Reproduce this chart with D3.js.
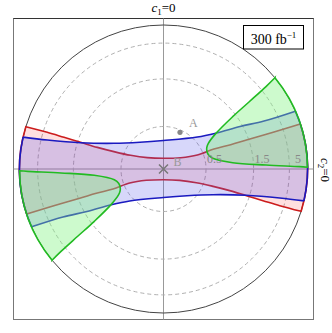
<!DOCTYPE html>
<html>
<head>
<meta charset="utf-8">
<script src="https://cdn.jsdelivr.net/npm/d3@7"></script>
<style>
  body { margin: 0; background: #fff; }
  svg text { font-family: "Liberation Serif", "DejaVu Serif", serif; }
</style>
</head>
<body>
<svg id="myGraph" width="332" height="333"></svg>
<script>
// data: [angle in degrees, rho]  (rho = Infinity lies on the outer circle)
var rhoTicks = [0.5, 1.5, 5];
var rhoLabels = ["0.5", "1.5", "5"];
var redUpper = [[162.9, Infinity], [162.5, 4.07], [162.35, 2.17], [162.15, 1.40], [161.9, 0.949],
  [160.7, 0.645], [157.4, 0.409], [145.0, 0.219], [90, 0.117], [33.4, 0.228], [22.5, 0.422],
  [21.6, 0.672], [19.9, 0.988], [19.3, 1.454], [18.5, 3.24], [18.2, Infinity]];
var blueUpper = [[167.2, Infinity], [166.0, 3.70], [162.4, 1.39], [152.6, 0.697], [131.4, 0.409],
  [90, 0.321], [43.4, 0.556], [34.2, 0.841], [29.05, 1.413], [25.5, 2.69], [23.66, Infinity]];
var greenRight = [[39.3, Infinity], [38.8, 7.29], [38.1, 2.49], [37.1, 1.386], [34.2, 0.828],
  [29.8, 0.632], [26.8, 0.586], [23.7, 0.566], [18.0, 0.563], [12.3, 0.612], [5.2, 0.947],
  [2.2, 2.06], [1.0, 11.1], [0.7, Infinity]];
var pointA = [65.8, 0.469];
var pointB = [0, 0];
var legendText = "300 fb";

// layout
var svg = d3.select("#myGraph");
const CX = 163.5;
const CY = 169;
const R = 144;
const FRAME = {x: 13.5, y: 18.5, w: 300, h: 301};

// radius: 2/pi * atan(rho) mapped onto [0, R]
var rScale = d3.scaleLinear().domain([0, Math.PI / 2]).range([0, R]);

function toXY(d){
  var r = rScale(Math.atan(d[1]));
  var a = d[0] * Math.PI / 180;
  return [CX + r * Math.cos(a), CY - r * Math.sin(a)];
}
function flip(pts){
  return pts.map(function(d){ return [d[0] + 180, d[1]]; });
}
var lineGen = d3.line().curve(d3.curveCatmullRom.alpha(0.5));
function seg(pts, first){
  var s = lineGen(pts.map(toXY));
  return first ? s : s.replace(/^M/, "L");
}
function arcTo(theta, sweep){
  var p = toXY([theta, Infinity]);
  return "A" + R + "," + R + " 0 0," + sweep + " " + p[0] + "," + p[1];
}
// band: upper curve, arc (clockwise), mirrored curve, arc back
function bandPath(up){
  var low = flip(up);
  return seg(up, true) + arcTo(low[0][0], 1) + seg(low, false) + arcTo(up[0][0], 1) + "Z";
}
function wedgePath(c){
  return seg(c, true) + arcTo(c[0][0], 0) + "Z";
}

// frame
svg.append("rect")
  .attr("x", FRAME.x).attr("y", FRAME.y)
  .attr("width", FRAME.w).attr("height", FRAME.h)
  .attr("fill", "none").attr("stroke", "#777").attr("stroke-width", 1);
svg.append("line")
  .attr("x1", FRAME.x).attr("x2", FRAME.x + FRAME.w).attr("y1", FRAME.y).attr("y2", FRAME.y)
  .attr("stroke", "#333").attr("stroke-width", 1);

// axes lines
svg.append("line")
  .attr("x1", CX).attr("x2", CX).attr("y1", FRAME.y).attr("y2", FRAME.y + FRAME.h)
  .attr("stroke", "#999").attr("stroke-width", 1);
svg.append("line")
  .attr("x1", FRAME.x).attr("x2", FRAME.x + FRAME.w).attr("y1", CY).attr("y2", CY)
  .attr("stroke", "#999").attr("stroke-width", 1);

// grid circles
svg.selectAll(".grid")
  .data(rhoTicks)
  .enter()
  .append("circle")
  .attr("class", "grid")
  .attr("cx", CX).attr("cy", CY)
  .attr("r", function(d){ return rScale(Math.atan(d)); })
  .attr("fill", "none").attr("stroke", "#b0b0b0")
  .attr("stroke-dasharray", "4,3").attr("stroke-width", 1);

svg.append("circle")
  .attr("cx", CX).attr("cy", CY).attr("r", R)
  .attr("fill", "none").attr("stroke", "#444").attr("stroke-width", 1);

// regions
svg.append("path").attr("d", bandPath(redUpper))
  .attr("fill", "#ff0000").attr("fill-opacity", 0.12)
  .attr("stroke", "#cc1c1c").attr("stroke-width", 1.6);
svg.append("path").attr("d", bandPath(blueUpper))
  .attr("fill", "rgb(95,95,235)").attr("fill-opacity", 0.25)
  .attr("stroke", "#1a1ac0").attr("stroke-width", 1.6);
[greenRight, flip(greenRight)].forEach(function(c){
  svg.append("path").attr("d", wedgePath(c))
    .attr("fill", "rgb(130,242,130)").attr("fill-opacity", 0.4)
    .attr("stroke", "#22bb22").attr("stroke-width", 1.6);
});

// radial tick labels
svg.selectAll(".rlab")
  .data(rhoTicks)
  .enter()
  .append("text")
  .attr("class", "rlab")
  .attr("x", function(d){ return CX + rScale(Math.atan(d)) + 8.5; })
  .attr("y", CY - 6)
  .attr("text-anchor", "middle")
  .attr("font-size", 12)
  .attr("fill", "#888")
  .text(function(d, i){ return rhoLabels[i]; });

// points A and B
var pa = toXY(pointA);
svg.append("circle").attr("cx", pa[0]).attr("cy", pa[1]).attr("r", 2.6).attr("fill", "#888");
svg.append("text").attr("x", pa[0] + 9).attr("y", pa[1] - 5)
  .attr("font-size", 12).attr("fill", "#999").text("A");
var pb = toXY(pointB);
svg.append("path")
  .attr("d", "M" + (pb[0] - 4.5) + "," + (pb[1] - 4.5) + "L" + (pb[0] + 4.5) + "," + (pb[1] + 4.5) +
    "M" + (pb[0] - 4.5) + "," + (pb[1] + 4.5) + "L" + (pb[0] + 4.5) + "," + (pb[1] - 4.5))
  .attr("stroke", "#777").attr("stroke-width", 1.5);
svg.append("text").attr("x", pb[0] + 10).attr("y", pb[1] - 3.5)
  .attr("font-size", 12).attr("fill", "#999").text("B");

// title and side label
var t = svg.append("text").attr("x", CX).attr("y", 11.5)
  .attr("text-anchor", "middle").attr("font-size", 13).attr("fill", "#000");
t.append("tspan").attr("font-style", "italic").text("c");
t.append("tspan").attr("font-size", 9).attr("dy", 3).text("1");
t.append("tspan").attr("dy", -3).text("=0");

var s = svg.append("text").attr("transform", "translate(320.5,170) rotate(90)")
  .attr("text-anchor", "middle").attr("font-size", 13).attr("fill", "#000");
s.append("tspan").attr("font-style", "italic").text("c");
s.append("tspan").attr("font-size", 9).attr("dy", 3).text("2");
s.append("tspan").attr("dy", -3).text("=0");

// legend box
svg.append("rect").attr("x", 243.5).attr("y", 25.5).attr("width", 60).attr("height", 23.5)
  .attr("fill", "#fff").attr("stroke", "#000").attr("stroke-width", 1);
var lg = svg.append("text").attr("x", 273.5).attr("y", 43.5)
  .attr("text-anchor", "middle").attr("font-size", 14).attr("fill", "#000");
lg.append("tspan").text(legendText);
lg.append("tspan").attr("font-size", 9).attr("dy", -6).text("\u22121");
</script>
</body>
</html>
